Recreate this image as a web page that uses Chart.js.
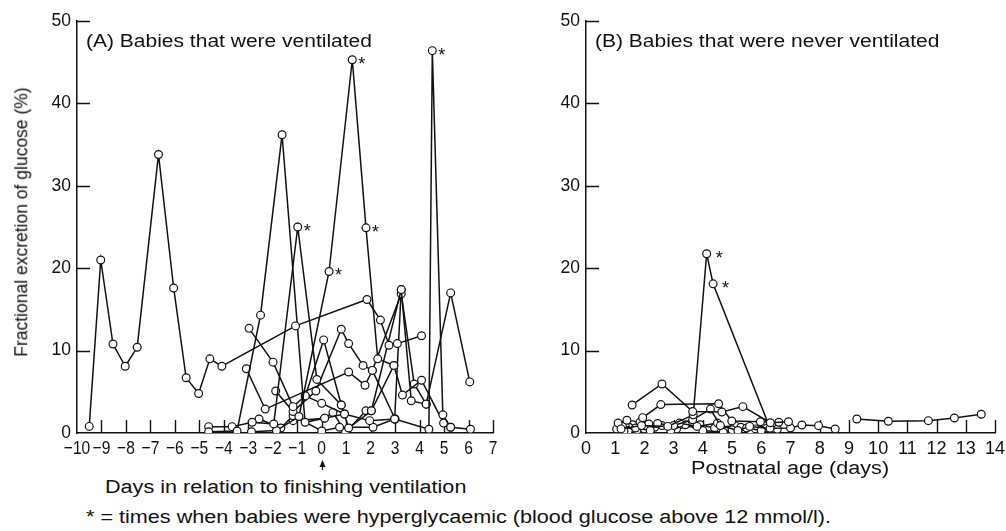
<!DOCTYPE html>
<html lang="en">
<head>
<meta charset="UTF-8">
<title>Fractional excretion of glucose</title>
<script src="https://cdn.jsdelivr.net/npm/chart.js"></script>
<style>
  body { margin: 0; background: #fff; }
  #wrap { position: relative; width: 1006px; height: 531px; overflow: hidden;
          font-family: 'Liberation Sans', Arial, sans-serif; color: #111; }
  .box { position: absolute; top: 0; height: 470px; }
  .lbl { position: absolute; white-space: nowrap; line-height: 1; }
  .wide { transform-origin: 0 0; transform: scaleX(1.2); }
</style>
</head>
<body>
<div id="wrap">
  <div class="box" style="left:0; width:520px;"><canvas id="chartA"></canvas></div>
  <div class="box" style="left:510px; width:496px;"><canvas id="chartB"></canvas></div>

  <div class="lbl wide" style="left:86px; top:33px; font-size:17.5px;">(A) Babies that were ventilated</div>
  <div class="lbl wide" style="left:595px; top:33px; font-size:17.5px;">(B) Babies that were never ventilated</div>
  <div class="lbl" style="left:22px; top:222px; font-size:17.5px; transform: translate(-50%, -50%) rotate(-90deg);">Fractional excretion of glucose (%)</div>
  <div class="lbl wide" style="left:105px; top:478px; font-size:18px;">Days in relation to finishing ventilation</div>
  <div class="lbl wide" style="left:691px; top:459px; font-size:18px;">Postnatal age (days)</div>
  <div class="lbl wide" style="left:86px; top:508px; font-size:18px;">* = times when babies were hyperglycaemic (blood glucose above 12 mmol/l).</div>
</div>
<script>
// Panel A: days in relation to finishing ventilation, fractional excretion (%)
const a1 = [[-9.5,0.8],[-9.03,21.0],[-8.53,10.8],[-8.03,8.1],[-7.54,10.4],[-6.67,33.8],[-6.05,17.6],[-5.54,6.7],[-5.03,4.8],[-4.57,9.0],[-4.08,8.1],[-1.07,13.0],[1.85,16.2],[2.4,13.7],[2.75,10.65],[3.09,10.85],[4.08,11.8]];
const a2 = [[-4.62,0.16],[-3.46,0.25],[-2.5,14.3],[-1.62,36.2],[-0.68,1.3],[0.12,1.8],[0.93,2.3],[1.96,1.5],[2.98,1.7],[4.38,0.45],[4.52,46.4],[4.95,2.2],[5.27,0.7],[6.08,0.45]];
const a3 = [[-4.62,0.77],[-3.66,0.77],[-2.84,1.3],[-1.96,1.1],[-0.98,25.0],[-0.2,6.5],[0.8,3.4],[1.1,0.6],[2.03,2.7],[3.25,17.4],[3.66,3.9],[4.27,3.5],[5.27,17.0],[6.05,6.2]];
const a4 = [[-2.87,0.16],[-1.85,0.3],[-0.93,2.0],[0.3,19.6],[1.25,45.3],[1.81,24.9],[2.29,9.0],[2.95,8.2],[3.3,4.6],[4.08,6.4],[4.98,1.2],[5.27,0.7]];
const a5 = [[-3.08,7.8],[-2.31,2.9],[1.1,7.4],[1.77,5.8],[2.07,7.6],[3.25,16.9],[3.78,5.95],[4.27,3.5]];
const a6 = [[-2.97,12.7],[-1.99,8.6],[-1.17,3.2],[-0.67,4.5],[0.0,3.6],[0.93,2.3]];
const a7 = [[-1.88,5.1],[-1.17,2.6],[-0.24,5.1],[0.8,12.6],[1.1,10.85],[1.69,8.2],[2.07,7.6],[3.0,1.7]];
const a8 = [[-2.56,1.7],[-1.67,0.6],[-1.17,2.1],[0.0,0.25],[0.73,0.7],[2.1,0.7],[2.98,1.7],[3.25,17.4]];
const a9 = [[-1.17,1.5],[0.12,1.8],[0.46,2.5],[0.97,0.1],[1.81,2.7],[2.03,2.7],[2.95,8.2]];
const a10 = [[-0.67,4.5],[0.08,11.3],[0.8,3.4]];
const starsA = [[1.25,45.3],[4.52,46.4],[-0.98,25.0],[1.81,24.9],[0.3,19.6]];

// Panel B: postnatal age (days)
const b1 = [[9.27,1.7],[10.35,1.42],[11.72,1.5],[12.61,1.82],[13.53,2.27]];
const b2 = [[1.58,3.4],[2.6,5.95],[3.65,2.6],[4.65,2.55],[5.37,3.2],[6.31,1.25],[6.93,1.37]];
const b3 = [[1.94,1.86],[2.56,3.45],[4.54,3.55],[4.99,1.46],[5.97,1.37],[6.6,1.3]];
const b4 = [[1.2,0.5],[1.9,0.9],[2.8,0.8],[3.67,2.2],[4.13,21.75],[4.35,18.1],[6.3,0.57],[7.0,0.6],[7.39,0.97],[7.96,0.89],[8.53,0.49]];
const b5 = [[1.1,1.2],[1.4,1.55],[1.7,0.6],[2.2,0.3],[2.45,1.15],[3.0,0.9],[3.65,1.6],[4.26,2.9],[4.6,0.9],[5.2,0.3],[5.6,0.8],[6.55,0.45]];
const b6 = [[1.05,0.5],[1.3,0.2],[1.6,1.0],[2.0,0.5],[2.6,0.9],[3.2,1.2],[3.8,0.8],[4.5,1.2],[5.0,0.4],[5.5,0.6],[6.0,0.3],[6.4,0.8]];
const b7 = [[1.25,0.8],[1.75,0.35],[2.15,1.1],[2.9,0.3],[3.4,1.0],[4.0,0.3],[4.7,0.1],[5.3,0.7],[5.8,0.5],[6.2,0.6]];
const b8 = [[1.45,0.3],[1.85,1.3],[2.35,0.7],[3.1,0.5],[3.9,1.0],[4.4,0.6],[5.1,0.9],[5.65,0.2],[6.15,1.0]];
const starsB = [[4.13,21.75],[4.35,18.1]];

const yTicks = [0, 10, 20, 30, 40, 50];
const ink = '#111';

function toSet(pairs) {
  return {
    data: pairs.map(p => ({ x: p[0], y: p[1] })),
    showLine: true,
    borderColor: ink,
    borderWidth: 1.5,
    pointRadius: 3.9,
    pointBackgroundColor: '#fff',
    pointBorderColor: ink,
    pointBorderWidth: 1.2,
    tension: 0
  };
}

// ticks in this figure point into the plot, x labels are condensed,
// stars mark hyperglycaemic samples
const figureMarks = {
  id: 'figureMarks',
  beforeDatasetsDraw(chart) {
    const { ctx, chartArea, scales: { x, y } } = chart;
    ctx.save();
    ctx.strokeStyle = ink;
    ctx.lineWidth = 1.4;
    ctx.beginPath();
    x.ticks.forEach(t => {
      if (t.value === x.min) return;
      const px = Math.round(x.getPixelForValue(t.value)) + 0.5;
      ctx.moveTo(px, chartArea.bottom);
      ctx.lineTo(px, chartArea.bottom - 13);
    });
    y.ticks.forEach(t => {
      if (t.value === y.min) return;
      const py = Math.round(y.getPixelForValue(t.value)) + 0.5;
      ctx.moveTo(chartArea.left, py);
      ctx.lineTo(chartArea.left + 13, py);
    });
    ctx.stroke();
    ctx.restore();
  },
  afterDatasetsDraw(chart, args, opts) {
    const { ctx, chartArea, scales: { x, y } } = chart;
    ctx.save();
    ctx.fillStyle = ink;

    // x tick labels
    ctx.font = '19px "Liberation Sans", Arial, sans-serif';
    ctx.textAlign = 'center';
    ctx.textBaseline = 'alphabetic';
    x.ticks.forEach(t => {
      const txt = String(t.value).replace('-', '\u2212');
      ctx.save();
      ctx.translate(x.getPixelForValue(t.value), chartArea.bottom + 21);
      ctx.scale(opts.squeeze, 1);
      ctx.fillText(txt, 0, 0);
      ctx.restore();
    });

    ctx.font = '18px "Liberation Sans", Arial, sans-serif';
    ctx.textAlign = 'left';
    ctx.textBaseline = 'middle';
    (opts.stars || []).forEach(s => {
      ctx.fillText('*', x.getPixelForValue(s[0]) + opts.dx, y.getPixelForValue(s[1]) + 5);
    });

    if (opts.arrow) {
      const px = Math.round(x.getPixelForValue(0)) + 0.5;
      const top = chartArea.bottom + 27;
      ctx.strokeStyle = ink;
      ctx.lineWidth = 1.2;
      ctx.beginPath();
      ctx.moveTo(px, top + 4);
      ctx.lineTo(px, top + 17);
      ctx.stroke();
      ctx.beginPath();
      ctx.moveTo(px, top);
      ctx.lineTo(px - 3, top + 7);
      ctx.lineTo(px + 3, top + 7);
      ctx.closePath();
      ctx.fill();
    }
    ctx.restore();
  }
};

function makeChart(id, sets, xMin, xMax, xHeight, yWidth, pad, marks) {
  return new Chart(document.getElementById(id), {
    type: 'scatter',
    data: { datasets: sets.map(toSet) },
    plugins: [figureMarks],
    options: {
      responsive: true,
      maintainAspectRatio: false,
      animation: false,
      events: [],
      layout: { padding: pad },
      plugins: { legend: { display: false }, tooltip: { enabled: false }, figureMarks: marks },
      scales: {
        x: {
          type: 'linear', min: xMin, max: xMax,
          afterBuildTicks: s => { s.ticks = []; for (let v = xMin; v <= xMax; v++) s.ticks.push({ value: v }); },
          afterFit: s => { s.height = xHeight; },
          grid: { drawOnChartArea: false, drawTicks: false },
          border: { display: true, color: ink, width: 1.5 },
          ticks: { display: false }
        },
        y: {
          type: 'linear', min: 0, max: 50,
          afterBuildTicks: s => { s.ticks = yTicks.map(v => ({ value: v })); },
          afterFit: s => { s.width = yWidth; },
          grid: { drawOnChartArea: false, drawTicks: false },
          border: { display: true, color: ink, width: 1.5 },
          ticks: {
            color: ink, padding: 6,
            font: { family: "'Liberation Sans', Arial, sans-serif", size: 17.5 }
          }
        }
      }
    }
  });
}

makeChart('chartA', [a1, a2, a3, a4, a5, a6, a7, a8, a9, a10], -10, 7, 37, 77,
  { left: 0, right: 27, top: 21, bottom: 0 }, { stars: starsA, dx: 6, arrow: true, squeeze: 0.82 });
makeChart('chartB', [b1, b2, b3, b4, b5, b6, b7, b8], 0, 14, 37, 76,
  { left: 0, right: 11, top: 21, bottom: 0 }, { stars: starsB, dx: 9, arrow: false, squeeze: 0.95 });
</script>
</body>
</html>
